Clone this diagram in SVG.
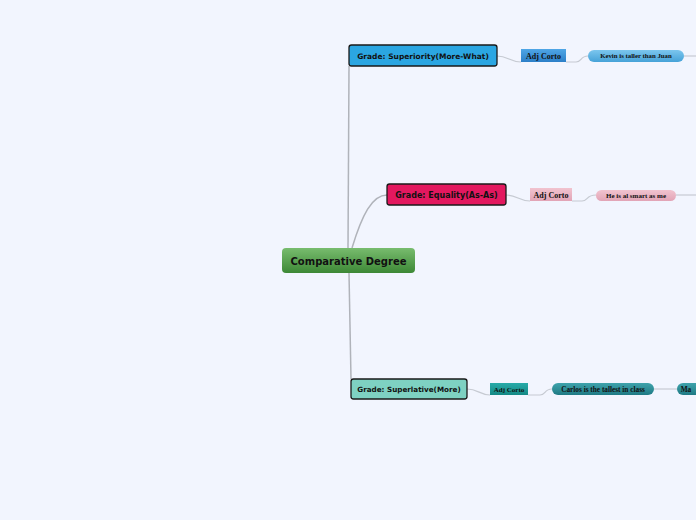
<svg xmlns="http://www.w3.org/2000/svg" width="696" height="520" viewBox="0 0 696 520">
<defs>
<linearGradient id="gCenter" x1="0" y1="0" x2="0" y2="1"><stop offset="0" stop-color="#78BC6E"/><stop offset="1" stop-color="#3D8836"/></linearGradient>
<linearGradient id="gBlue" x1="0" y1="0" x2="0" y2="1"><stop offset="0" stop-color="#4FA6E6"/><stop offset="1" stop-color="#2C7FC8"/></linearGradient>
<linearGradient id="gBluePill" x1="0" y1="0" x2="0" y2="1"><stop offset="0" stop-color="#7CC6EE"/><stop offset="1" stop-color="#46A2D8"/></linearGradient>
<linearGradient id="gPink" x1="0" y1="0" x2="0" y2="1"><stop offset="0" stop-color="#F1C3CF"/><stop offset="1" stop-color="#E2A4B6"/></linearGradient>
<linearGradient id="gTeal" x1="0" y1="0" x2="0" y2="1"><stop offset="0" stop-color="#28ABA9"/><stop offset="1" stop-color="#148884"/></linearGradient>
<linearGradient id="gTealPill" x1="0" y1="0" x2="0" y2="1"><stop offset="0" stop-color="#3FA3AC"/><stop offset="1" stop-color="#1F7A84"/></linearGradient>
</defs>
<style>
.main{stroke:#B0B3BA;stroke-width:1.5;fill:none}
.sub{stroke:#C6CAD2;stroke-width:1.2;fill:none}
.grade{stroke:#1A1A1A;stroke-width:1.3}
.gt{font-family:"DejaVu Sans",sans-serif;font-weight:bold;fill:#111;text-anchor:middle}
.st{font-family:"Liberation Serif","DejaVu Serif",serif;font-weight:bold;fill:#111;text-anchor:middle}
</style>
<rect width="696" height="520" fill="#F2F5FE"/>
<g id="connectors">
<path class="main" d="M348,248 L349,66"/>
<path class="main" d="M352,248 C362,215 372,195 387,195"/>
<path class="main" d="M349,273 L351,379"/>
<path class="sub" d="M497,56 C508,56 510,62 521,62"/>
<path class="sub" d="M566,62 L576,62 C582,62 580,56 588,56"/>
<path class="sub" d="M684,56 L696,56"/>
<path class="sub" d="M506,195 C517,195 519,201 530,201"/>
<path class="sub" d="M572,201 L582,201 C588,201 586,195 596,195"/>
<path class="sub" d="M676,195 L696,195"/>
<path class="sub" d="M467,389 C478,389 480,395 490,395"/>
<path class="sub" d="M528,395 L540,395 C546,395 544,389 552,389"/>
<path class="sub" d="M654,389 L677,389"/>
</g>
<g id="center">
<rect x="282" y="248" width="133" height="25" rx="4" fill="url(#gCenter)"/>
<text x="348.5" y="264.5" font-family="DejaVu Sans,sans-serif" font-weight="bold" font-size="10" fill="#111" text-anchor="middle">Comparative Degree</text>
</g>
<g id="superiority">
<rect class="grade" x="349" y="45" width="148" height="21" rx="2.5" fill="#2BA6E2"/>
<text class="gt" x="423" y="58.5" font-size="7.5">Grade: Superiority(More-What)</text>
</g>
<g id="sup-adj">
<rect x="521" y="49" width="45" height="13" fill="url(#gBlue)"/>
<text class="st" x="543.5" y="58.5" font-size="8">Adj Corto</text>
</g>
<g id="sup-ex">
<rect x="588" y="50" width="96" height="12" rx="6" fill="url(#gBluePill)"/>
<text class="st" x="636" y="58.4" font-size="6.8">Kevin is taller than Juan</text>
</g>
<g id="equality">
<rect class="grade" x="387" y="184" width="119" height="21" rx="2.5" fill="#E3185F"/>
<text class="gt" x="446.5" y="198" font-size="8">Grade: Equality(As-As)</text>
</g>
<g id="eq-adj">
<rect x="530" y="188" width="42" height="13" fill="url(#gPink)"/>
<text class="st" x="551" y="197.5" font-size="8">Adj Corto</text>
</g>
<g id="eq-ex">
<rect x="596" y="190" width="80" height="11" rx="5.5" fill="url(#gPink)"/>
<text class="st" x="636" y="197.7" font-size="7">He is al smart as me</text>
</g>
<g id="superlative">
<rect class="grade" x="351" y="379" width="116" height="20" rx="2.5" fill="#7ED1C2"/>
<text class="gt" x="409" y="392" font-size="7.2">Grade: Superlative(More)</text>
</g>
<g id="sl-adj">
<rect x="490" y="383" width="38" height="12" fill="url(#gTeal)"/>
<text class="st" x="509" y="391.5" font-size="7">Adj Corto</text>
</g>
<g id="sl-ex">
<rect x="552" y="383" width="102" height="12" rx="6" fill="url(#gTealPill)"/>
<text class="st" x="603" y="391.5" font-size="7.3">Carlos is the tallest in class</text>
</g>
<g id="sl-ex2">
<rect x="677" y="383" width="40" height="12" rx="6" fill="url(#gTealPill)"/>
<text class="st" x="686" y="391.5" font-size="7.3" text-anchor="start">Ma</text>
</g>
</svg>
